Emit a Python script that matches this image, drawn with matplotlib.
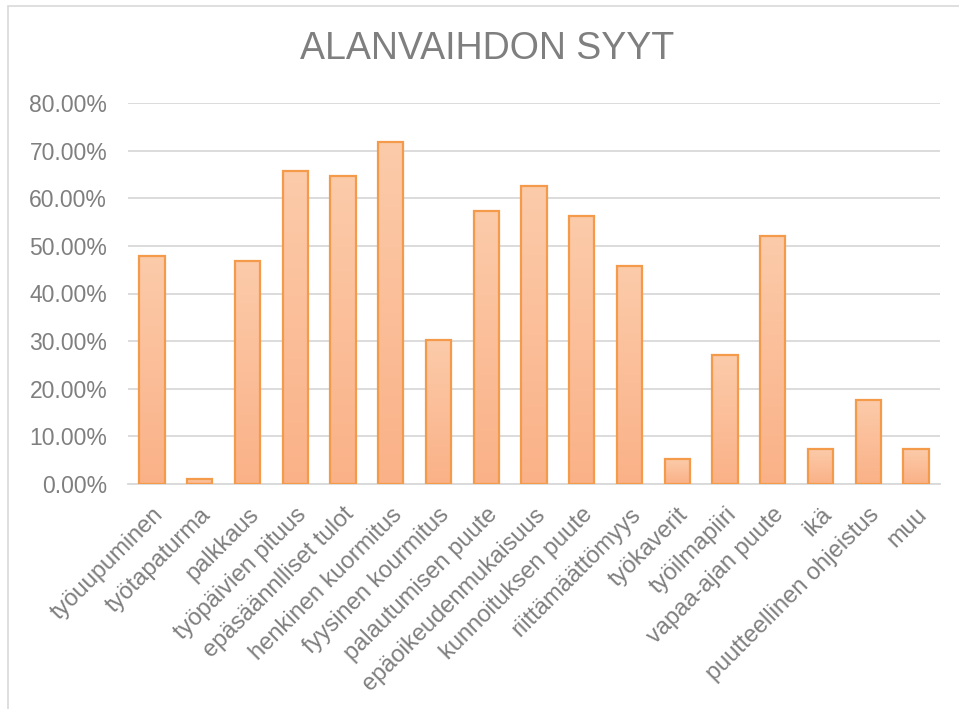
import numpy as np
from matplotlib import pyplot as plt
from matplotlib.colors import LinearSegmentedColormap
from matplotlib.patches import Rectangle
from matplotlib.ticker import FuncFormatter
from matplotlib.transforms import ScaledTranslation

plt.rcParams['font.family'] = ['Liberation Sans', 'DejaVu Sans']

categories = ["työuupuminen", "työtapaturma", "palkkaus", "työpäivien pituus",
              "epäsäännlliset tulot", "henkinen kuormitus", "fyysinen kourmitus",
              "palautumisen puute", "epäoikeudenmukaisuus", "kunnoituksen puute",
              "riittämäättömyys", "työkaverit", "työilmapiiri", "vapaa-ajan puute",
              "ikä", "puutteellinen ohjeistus", "muu"]
values = [0.4792, 0.0104, 0.4688, 0.6563, 0.6458, 0.7188, 0.3021, 0.5729,
          0.6250, 0.5625, 0.4583, 0.0521, 0.2708, 0.5208, 0.0729, 0.1771, 0.0729]
yticks = [0, 0.1, 0.2, 0.3, 0.4, 0.5, 0.6, 0.7, 0.8]

gray = "#7f7f7f"
fig = plt.figure(figsize=(9.59, 7.09), dpi=100)
ax = fig.add_axes([128/959, 1 - 484/709, (940-128)/959, (484-103)/709])

x = np.arange(len(categories))
bars = ax.bar(x, values, width=0.53, color="none", edgecolor="#f39a4b",
              linewidth=1.6, zorder=3)

# vertical gradient fill inside each bar
cmap = LinearSegmentedColormap.from_list("peach", ["#fab187", "#fccbaa"])
grad = np.linspace(0, 1, 256).reshape(-1, 1)
for b in bars:
    x0, y0 = b.get_x(), b.get_y()
    w, h = b.get_width(), b.get_height()
    im = ax.imshow(grad, cmap=cmap, origin="lower", aspect="auto",
                   extent=[x0, x0 + w, y0, y0 + h], zorder=2)
    im.set_clip_path(b)

ax.set_xlim(-0.5, len(categories) - 0.5)
ax.set_ylim(0, 0.8)
ax.set_yticks(yticks)
ax.yaxis.set_major_formatter(FuncFormatter(lambda v, p: f"{v*100:.2f}%"))
ax.set_xticks(x)
ax.set_xticklabels(categories, rotation=45, ha="right", rotation_mode="anchor")
shift = ScaledTranslation(-0.12, 0, fig.dpi_scale_trans)
for lab in ax.get_xticklabels():
    lab.set_transform(lab.get_transform() + shift)

ax.grid(axis="y", color="#d9d9d9", linewidth=1.3, zorder=0)
ax.set_axisbelow(True)
for s in ["top", "right", "left"]:
    ax.spines[s].set_visible(False)
ax.spines["bottom"].set_color("#d9d9d9")
ax.spines["bottom"].set_linewidth(1.3)
ax.tick_params(axis="y", length=0, pad=15, labelsize=16.5, labelcolor=gray)
ax.tick_params(axis="x", length=0, pad=14, labelsize=17, labelcolor=gray)

fig.text(487/959, 1 - 49/709, "ALANVAIHDON SYYT", ha="center", va="center",
         fontsize=27, color=gray)

# chart border
fig.patches.append(Rectangle((8/959, -0.01), 1.0, 1 - 6/709 + 0.01,
                             transform=fig.transFigure, fill=False,
                             edgecolor="#d9d9d9", linewidth=1.2))

fig.savefig("out.png", dpi=100)
